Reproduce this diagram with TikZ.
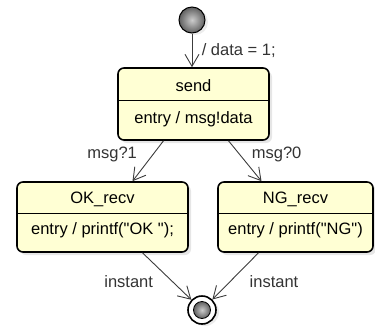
\documentclass[tikz,border=0pt]{standalone}
\usepackage{fontspec}
\setmainfont{Liberation Sans}
\usetikzlibrary{arrows.meta,shadows}

\definecolor{statefill}{RGB}{255,255,212}
\definecolor{linegray}{RGB}{60,60,60}
\newcommand{\dq}{\textquotedbl}

\begin{document}
\begin{tikzpicture}[x=1pt,y=-1pt,
  every node/.style={font=\fontsize{16.5}{19}\selectfont},
  state/.style={draw, line width=1.6pt, rounded corners=6pt, fill=statefill,
    drop shadow={opacity=0.2,shadow xshift=3pt,shadow yshift=-3pt}, inner sep=0pt},
  pseudo/.style={circle, draw, inner sep=0pt, shading=radial,
    inner color=gray!40, outer color=gray!75!black},
  trans/.style={draw=linegray, line width=0.9pt, -{Straight Barb[length=12pt,width=14pt]}},
  tlabel/.style={text=black!80}]
  \useasboundingbox (0,0) rectangle (375,327);
  % states
  \node[state, minimum width=151pt, minimum height=72pt] (send) at (193.5,104) {};
  \node[state, minimum width=171pt, minimum height=70pt] (OK) at (102.5,217) {};
  \node[state, minimum width=155pt, minimum height=70pt] (NG) at (295.5,217) {};
  \draw[line width=0.8pt] (send.west |- 0,100) -- (send.east |- 0,100);
  \draw[line width=0.8pt] (OK.west |- 0,213) -- (OK.east |- 0,213);
  \draw[line width=0.8pt] (NG.west |- 0,213) -- (NG.east |- 0,213);
  \node at (193.5,86) {send};
  \node at (193.5,119) {entry / msg!data};
  \node at (102.5,199) {OK\_recv};
  \node at (102.5,230) {entry / printf(\dq OK \dq);};
  \node at (295.5,199) {NG\_recv};
  \node at (295.5,230) {entry / printf(\dq NG\dq)};
  % pseudo states
  \node[pseudo, line width=1pt, minimum size=26pt,
    drop shadow={opacity=0.15,shadow xshift=3pt,shadow yshift=-2pt}] (init) at (192,20) {};
  \node[circle, draw, line width=1.6pt, minimum size=28pt, fill=white,
    drop shadow={opacity=0.15,shadow xshift=3pt,shadow yshift=-2pt}] (fin) at (202,310) {};
  \node[pseudo, line width=0.8pt, minimum size=17pt] (finin) at (fin) {};
  % transitions
  \draw[trans] (init) -- (send.north -| init) node[midway,right=6pt,tlabel] {/ data = 1;};
  \draw[trans] ([xshift=-30pt]send.south) -- ([xshift=30pt]OK.north)
    node[pos=0.35,left=12pt,tlabel] {msg?1};
  \draw[trans] ([xshift=35pt]send.south) -- ([xshift=-34pt]NG.north)
    node[pos=0.35,right=8pt,tlabel] {msg?0};
  \draw[trans] ([xshift=40pt]OK.south) -- (fin)
    node[pos=0.62,left=16pt,tlabel] {instant};
  \draw[trans] ([xshift=-37pt]NG.south) -- (fin)
    node[pos=0.62,right=16pt,tlabel] {instant};
\end{tikzpicture}
\end{document}
